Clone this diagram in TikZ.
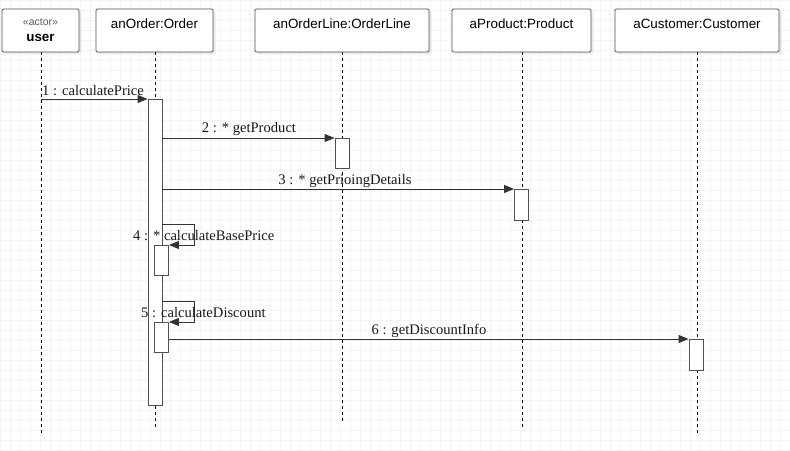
\documentclass[tikz,border=0pt]{standalone}
\usepackage{fontspec}
\setmainfont{Liberation Serif}
\newfontfamily\boxfont{Liberation Sans}
\usetikzlibrary{arrows.meta,shadows}
\definecolor{edge}{HTML}{505050}
\definecolor{gridc}{HTML}{F3F3F3}
\tikzset{
  objbox/.style={draw=edge, fill=white, line width=0.9bp, rounded corners=1.2bp,
    inner sep=0pt, minimum height=43bp,
    drop shadow={shadow xshift=2.5bp, shadow yshift=-2.5bp, opacity=0.15}},
  titletext/.style={font=\boxfont\fontsize{13.4bp}{15bp}\selectfont, text=black, inner sep=0pt},
  lifeline/.style={draw=black, line width=0.9bp, dash pattern=on 3bp off 3bp},
  actbox/.style={draw=edge, fill=white, line width=0.9bp, inner sep=0pt, minimum width=14bp},
  msg/.style={draw=black!80, line width=0.9bp, -{Triangle[length=10bp,width=8bp]}},
  msgtext/.style={font=\fontsize{14.6bp}{16bp}\selectfont, text=black!90, inner sep=0pt}
}
\begin{document}
\begin{tikzpicture}[x=1bp,y=-1bp]
  \useasboundingbox (0,0) rectangle (790,451);
  \fill[white] (0,0) rectangle (790,451);
  \draw[gridc, line width=0.5bp] (0,0) grid[step=10bp] (790,451);

  % object boxes
  \node[objbox, minimum width=77bp] (user) at (40.5,30.5) {};
  \node[objbox, minimum width=117bp] (order) at (154.5,30.5) {};
  \node[objbox, minimum width=174bp] (oline) at (342,30.5) {};
  \node[objbox, minimum width=139bp] (prod) at (521.5,30.5) {};
  \node[objbox, minimum width=164bp] (cust) at (697,30.5) {};

  \node[font=\boxfont\fontsize{10.5bp}{12bp}\selectfont, text=black!65, inner sep=0pt] (actorlbl) at (40.5,22) {«actor»};
  \node[titletext, font=\boxfont\bfseries\fontsize{13.4bp}{15bp}\selectfont] (userlbl) at (40.5,37.5) {user};
  \node[titletext] (orderlbl) at (154.5,24) {anOrder:Order};
  \node[titletext] (olinelbl) at (342,24) {anOrderLine:OrderLine};
  \node[titletext] (prodlbl) at (521.5,24) {aProduct:Product};
  \node[titletext] (custlbl) at (697,24) {aCustomer:Customer};

  % lifeline ends
  \coordinate (userend) at (41,435);
  \coordinate (orderend) at (155.5,427);
  \coordinate (olineend) at (342.5,421);
  \coordinate (prodend) at (522,428);
  \coordinate (custend) at (697,434);

  \draw[lifeline] (user.south -| userend) -- (userend);
  \draw[lifeline] (order.south -| orderend) -- (orderend);
  \draw[lifeline] (oline.south -| olineend) -- (olineend);
  \draw[lifeline] (prod.south -| prodend) -- (prodend);
  \draw[lifeline] (cust.south -| custend) -- (custend);

  % activations
  \node[actbox, minimum height=306bp, anchor=north] (a1) at (155,99) {};
  \node[actbox, minimum height=30bp, anchor=north] (a2) at (342,138) {};
  \node[actbox, minimum height=31bp, anchor=north] (a3) at (521.5,189) {};
  \node[actbox, minimum height=30bp, anchor=north] (a4) at (161.5,245) {};
  \node[actbox, minimum height=30bp, anchor=north] (a5) at (161.5,322) {};
  \node[actbox, minimum height=31bp, anchor=north] (a6) at (696,339) {};

  % messages
  \coordinate (m1s) at (41,99);
  \draw[msg] (m1s) -- (a1.north west);
  \node[msgtext, anchor=west] (l1) at (42,91) {1 : calculatePrice};

  \draw[msg] (a1.east |- a2.north) -- (a2.north west);
  \node[msgtext] (l2) at (249,129.5) {2 : * getProduct};

  \draw[msg] (a1.east |- a3.north) -- (a3.north west);
  \node[msgtext] (l3) at (345,181) {3 : * getPrioingDetails};

  \coordinate (m4s) at (162,224);
  \draw[msg] (m4s) -- ++(32,0) |- (a4.north east);
  \node[msgtext, anchor=west] (l4) at (133,236) {4 : * calculateBasePrice};

  \coordinate (m5s) at (162,301);
  \draw[msg] (m5s) -- ++(32,0) |- (a5.north east);
  \node[msgtext, anchor=west] (l5) at (141,313) {5 : calculateDiscount};

  \draw[msg] (a5.east |- a6.north) -- (a6.north west);
  \node[msgtext] (l6) at (429,331) {6 : getDiscountInfo};
\end{tikzpicture}
\end{document}
